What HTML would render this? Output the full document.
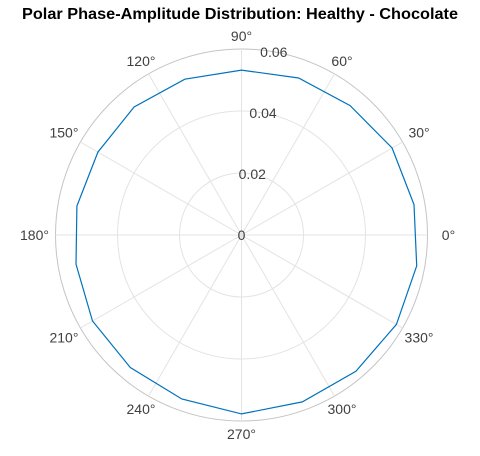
<!DOCTYPE html>
<html><head><meta charset="utf-8"><style>
html,body{margin:0;padding:0;background:#fff;width:480px;height:456px;overflow:hidden}
text{font-family:"Liberation Sans",Arial,sans-serif}
</style></head><body>
<svg id="chart" width="480" height="456" viewBox="0 0 480 456">
<text x="240" y="19" text-anchor="middle" font-size="15.5" font-weight="bold" fill="#000" textLength="436" lengthAdjust="spacingAndGlyphs">Polar Phase-Amplitude Distribution: Healthy - Chocolate</text>
<g id="grid"></g><g id="series"></g><g id="labels"></g>
</svg>
<script>
const binAngles = [10,30,50,70,90,110,130,150,170,190,210,230,250,270,290,310,330,350];
const amplitudes = [0.0565,0.0561,0.0545,0.0539,0.0532,0.0535,0.0539,0.0535,0.0539,0.0542,0.0555,0.0558,0.0563,0.0577,0.0573,0.0574,0.0577,0.0574];
const radialTicks = [0,0.02,0.04,0.06];
const radialTickLabels = ["0","0.02","0.04","0.06"];
const angleTicks = [0,30,60,90,120,150,180,210,240,270,300,330];

const NS="http://www.w3.org/2000/svg";
const cx=241.5, cy=235, R=186, rMax=0.06;
function rScale(v){return v/rMax*R;}
function pt(deg,v){const a=deg*Math.PI/180, r=rScale(v);return [cx+r*Math.cos(a), cy-r*Math.sin(a)];}
function mk(tag,attrs,parent){const e=document.createElementNS(NS,tag);for(const k in attrs)e.setAttribute(k,attrs[k]);parent.appendChild(e);return e;}
const grid=document.getElementById('grid'), series=document.getElementById('series'), labels=document.getElementById('labels');

radialTicks.forEach((t,i)=>{
  if(t===0) return;
  const c=mk('circle',{cx:cx,cy:cy,r:rScale(t),fill:'none',stroke:i===radialTicks.length-1?'#c4c4c4':'#e3e3e3','stroke-width':1},grid);
  
  
});
angleTicks.forEach(a=>{
  const p=pt(a,rMax);
  const l=mk('line',{x1:cx,y1:cy,x2:p[0],y2:p[1],stroke:'#e3e3e3','stroke-width':1},grid);
  
  
  const s=Math.sin(a*Math.PI/180);
  const rl=207-8*s*s;
  const q=pt(a,rl/R*rMax);
  const t=mk('text',{x:q[0],y:q[1]+5,'text-anchor':'middle','font-size':14,fill:'#404040'},labels);
  t.textContent=a+'°';
  
  
});
radialTicks.forEach((t,i)=>{
  const p=pt(80,t);
  const e=mk('text',{x:p[0],y:p[1]+5,'text-anchor':'middle','font-size':14,fill:'#404040'},labels);
  e.textContent=radialTickLabels[i];
  
  
});
const pts=binAngles.map((a,i)=>pt(a,amplitudes[i]).map(v=>v.toFixed(1)).join(',')).join(' ');
const pg=mk('polygon',{points:pts,fill:'none',stroke:'#0072BD','stroke-width':1.2},series);


</script>
</body></html>
